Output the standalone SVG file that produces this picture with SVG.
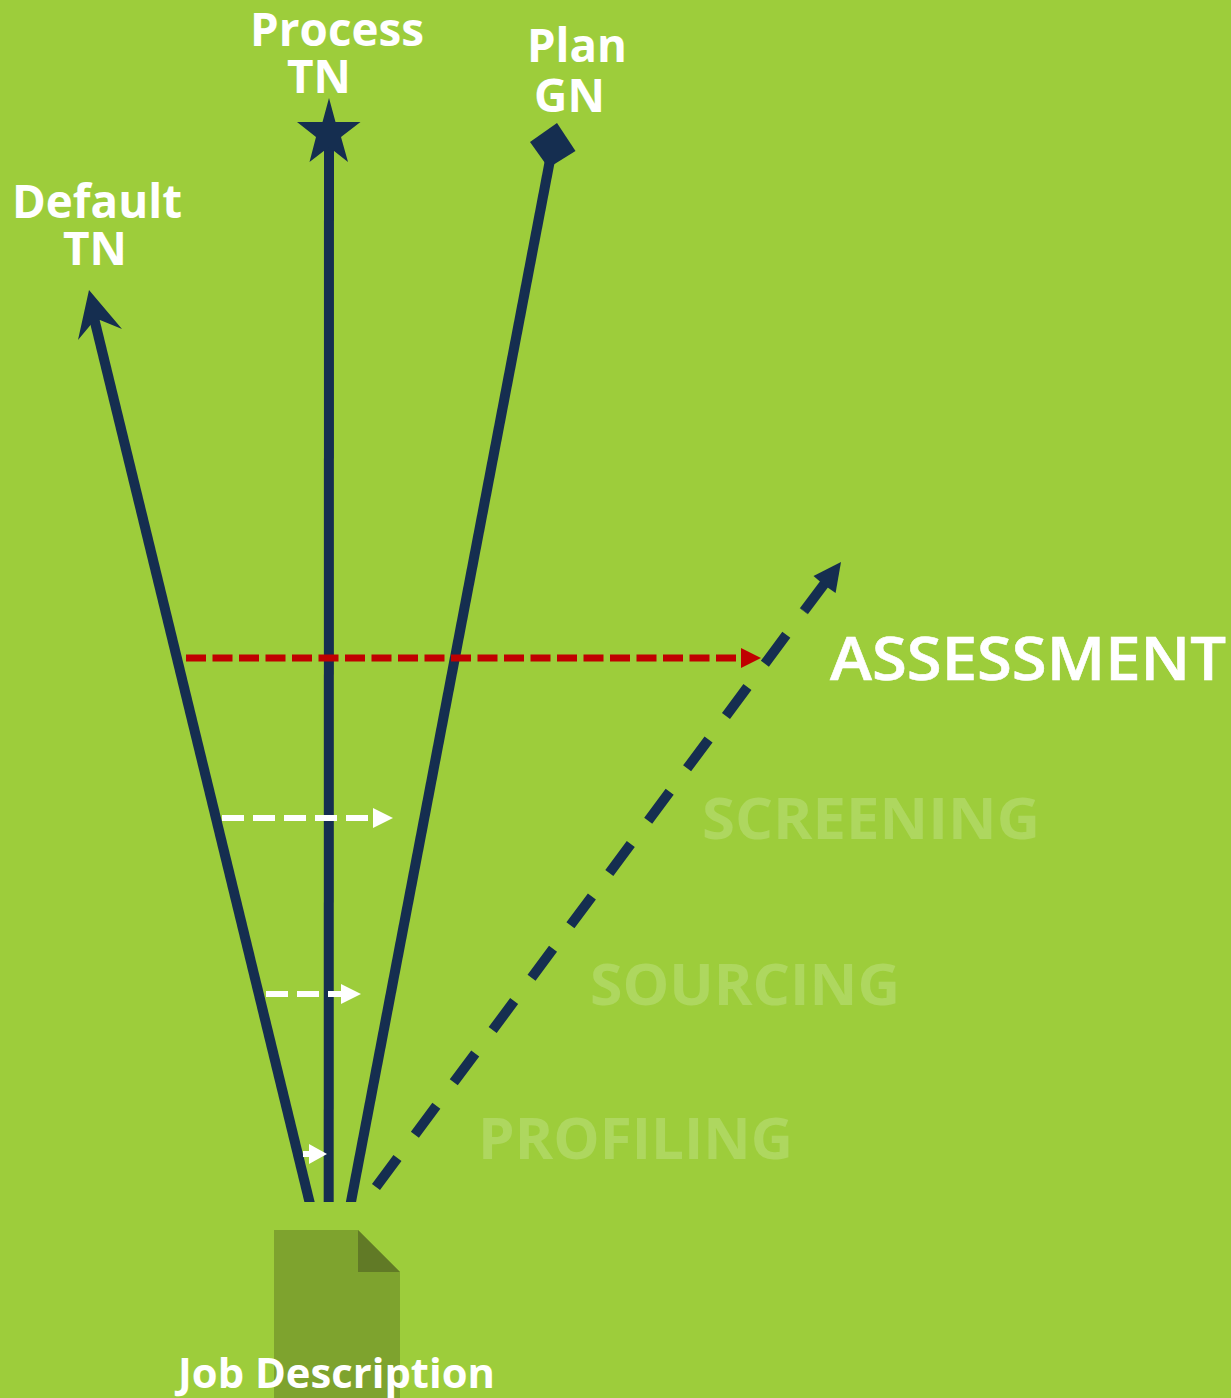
<svg xmlns="http://www.w3.org/2000/svg" width="1231" height="1398" viewBox="0 0 1231 1398">
<defs>
<style>
.t{font-family:"Open Sans","Noto Sans",sans-serif;font-weight:700;fill:#fff}
.a{font-family:"Open Sans","Noto Sans",sans-serif;font-weight:600;fill:#fff;stroke:#fff;stroke-width:.6}
.f{font-family:"Open Sans","Noto Sans",sans-serif;font-weight:700;fill:#aed75f;font-size:58px}
.m{fill:none;stroke:#152e50;stroke-width:10}
.h{fill:#152e50}
.w{fill:none;stroke:#fff;stroke-width:6;stroke-dasharray:22 9}
</style>
<clipPath id="c"><rect width="1231" height="1202"/></clipPath>
</defs>
<rect width="1231" height="1398" fill="#9dcd3b"/>
<g id="doc"><path d="M274 1230H358L400 1272V1398H274Z" fill="#7ea32e"/><path d="M358 1230L400 1272H358Z" fill="#617a26"/></g>
<g id="connectors">
<g clip-path="url(#c)">
<path class="m" d="M310.5 1206L94 318"/>
<path class="m" d="M328.7 1206L329 145"/>
<path class="m" d="M350.2 1206L550 160"/>
</g>
<path class="h" d="M89 290L122 329L100 320L93 322L78 340Z"/>
<path class="h" d="M329 98L335.5 122H360.5L341 137L348 162L329 147L309.5 162L316 137L297 122H322.5Z"/>
<path class="h" d="M557 123L575.5 151L553 165L545 163L530 142Z"/>
<path class="m" d="M376 1187L804 611" stroke-dasharray="36 29.2"/>
<path class="m" d="M804 611L825 583"/>
<path class="h" d="M841 562L813.5 576L824 585L835.6 593Z"/>
<path d="M186 658H745" fill="none" stroke="#c00000" stroke-width="7" stroke-dasharray="20 6.5"/><path d="M741 648L761 658L741 668Z" fill="#c00000"/>
<path class="w" d="M222 818H375"/><path d="M373 808L393 818L373 828Z" fill="#fff"/>
<path class="w" d="M266 994H343"/><path d="M341 984L361 994L341 1004Z" fill="#fff"/>
<path d="M303 1154H311" fill="none" stroke="#fff" stroke-width="6"/><path d="M309 1144L327 1154L309 1164Z" fill="#fff"/>
</g>
<g id="labels">
<text class="t" font-size="47" x="250" y="46" textLength="174" lengthAdjust="spacingAndGlyphs">Process</text>
<text class="t" font-size="47" x="287" y="93" textLength="64" lengthAdjust="spacingAndGlyphs">TN</text>
<text class="t" font-size="47" x="527" y="62" textLength="100" lengthAdjust="spacingAndGlyphs">Plan</text>
<text class="t" font-size="47" x="534" y="112" textLength="71" lengthAdjust="spacingAndGlyphs">GN</text>
<text class="t" font-size="47" x="12" y="218" textLength="170" lengthAdjust="spacingAndGlyphs">Default</text>
<text class="t" font-size="47" x="63" y="265" textLength="64" lengthAdjust="spacingAndGlyphs">TN</text>
<text class="a" font-size="60" x="830" y="680" textLength="396" lengthAdjust="spacingAndGlyphs">ASSESSMENT</text>
<text class="f" x="702" y="839" textLength="338" lengthAdjust="spacingAndGlyphs">SCREENING</text>
<text class="f" x="590" y="1005" textLength="310" lengthAdjust="spacingAndGlyphs">SOURCING</text>
<text class="f" x="478" y="1159" textLength="315" lengthAdjust="spacingAndGlyphs">PROFILING</text>
<text class="t" font-size="42" x="178" y="1388" textLength="317" lengthAdjust="spacingAndGlyphs">Job Description</text>
</g>
</svg>
